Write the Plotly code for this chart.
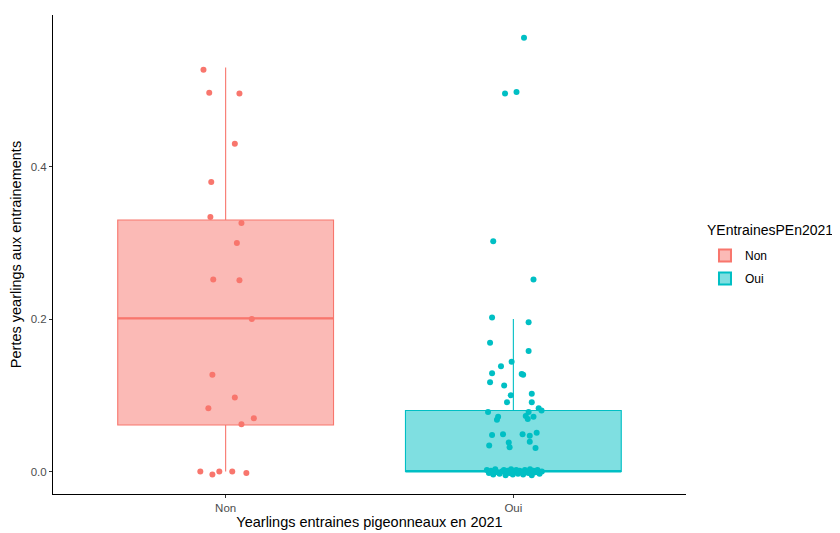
import plotly.graph_objects as go

# Groups and colours (ggplot default hue)
groups = ["Non", "Oui"]
colors = {"Non": "#F8766D", "Oui": "#00BFC4"}
fills = {"Non": "rgba(248,118,109,0.5)", "Oui": "rgba(0,191,196,0.5)"}

# Box statistics
q1 = [0.061, 0.0]
median = [0.201, 0.0]
q3 = [0.330, 0.080]
lower = [0.0, 0.0]
upper = [0.530, 0.200]

# Jittered points: value and horizontal jitter (category units)
non_vals = [0.527, 0.497, 0.496, 0.430, 0.380, 0.334, 0.326, 0.300, 0.252, 0.251,
            0.200, 0.127, 0.097, 0.083, 0.070, 0.062, 0.000, -0.004, 0.000, 0.000, -0.002]
non_jit = [-0.077, -0.057, 0.048, 0.032, -0.050, -0.053, 0.055, 0.039, -0.043, 0.048,
           0.091, -0.046, 0.032, -0.060, 0.098, 0.055, -0.088, -0.046, -0.022, 0.023, 0.072]

oui_vals = [0.569, 0.496, 0.498, 0.302, 0.252, 0.202, 0.196, 0.169, 0.158, 0.144,
            0.138, 0.129, 0.128, 0.127, 0.117, 0.113, 0.102, 0.100, 0.091, 0.091,
            0.083, 0.080, 0.078, 0.078, 0.072, 0.068, 0.073, 0.069, 0.072, 0.048,
            0.049, 0.049, 0.047, 0.051, 0.038, 0.032, 0.034, 0.039, 0.031,
            0.002, -0.002, 0.001, -0.004, 0.003, -0.001, -0.003, 0.000, 0.002, -0.005,
            0.001, -0.002, 0.003, -0.004, 0.000, 0.002, -0.003, 0.001, -0.001, -0.004,
            0.002, 0.000, -0.002, 0.003, -0.005, 0.001, -0.001, 0.002, -0.003, 0.000]
oui_jit = [0.037, -0.029, 0.011, -0.070, 0.070, -0.074, 0.053, -0.081, 0.053, -0.006,
           -0.043, -0.074, 0.029, 0.034, -0.081, -0.032, 0.064, -0.009, 0.064, -0.022,
           0.088, 0.098, -0.088, 0.053, -0.053, -0.057, 0.043, 0.050, 0.070, -0.074,
           -0.036, 0.032, 0.057, 0.081, -0.016, -0.013, -0.084, 0.057, 0.077,
           -0.092, -0.085, -0.078, -0.070, -0.063, -0.055, -0.048, -0.040, -0.033, -0.027,
           -0.020, -0.014, -0.008, -0.002, 0.004, 0.010, 0.016, 0.022, 0.028, 0.034,
           0.040, 0.046, 0.052, 0.058, 0.064, 0.070, 0.077, 0.084, 0.091, 0.099]

box_width = 0.75
font = "Liberation Sans, Arial, sans-serif"

fig = go.Figure()

for i, g in enumerate(groups):
    fig.add_trace(go.Box(
        x=[i], q1=[q1[i]], median=[median[i]], q3=[q3[i]],
        lowerfence=[lower[i]], upperfence=[upper[i]],
        name=g, legendgroup=g, width=box_width, whiskerwidth=0,
        fillcolor=fills[g], line=dict(color=colors[g], width=1.1),
        boxpoints=False, hoverinfo="skip",
    ))
    # thicker median line, like ggplot
    fig.add_trace(go.Scatter(
        x=[i - box_width / 2, i + box_width / 2], y=[median[i], median[i]],
        mode="lines", line=dict(color=colors[g], width=2.2),
        legendgroup=g, showlegend=False, hoverinfo="skip",
    ))

for i, (g, vals, jit) in enumerate([("Non", non_vals, non_jit), ("Oui", oui_vals, oui_jit)]):
    fig.add_trace(go.Scatter(
        x=[i + j for j in jit], y=vals, mode="markers",
        marker=dict(color=colors[g], size=6),
        legendgroup=g, showlegend=False, name=g,
    ))

# the page body adds an 8px margin, so the figure is 8px smaller than the window
fig.update_layout(
    width=832, height=525,
    margin=dict(l=45, r=154, t=7, b=39),
    plot_bgcolor="white", paper_bgcolor="white",
    font=dict(family=font, size=12, color="black"),
    boxmode="overlay",
    legend=dict(
        font=dict(size=12, color="black"),
        x=1.030, y=0.528, xanchor="left", yanchor="top",
        tracegroupgap=4, itemsizing="constant",
    ),
    annotations=[dict(
        text="YEntrainesPEn2021", xref="paper", yref="paper",
        x=1.031, y=0.551, xanchor="left", yanchor="middle",
        showarrow=False, borderpad=0, font=dict(size=14, color="black"),
    )],
)

fig.update_xaxes(
    range=[-0.6, 1.6], tickvals=[0, 1], ticktext=groups,
    showline=True, linecolor="black", linewidth=1, mirror=False,
    ticks="outside", ticklen=3, tickcolor="#333333",
    tickfont=dict(size=11.5, color="#4D4D4D"),
    showgrid=False, zeroline=False, automargin=False,
    title=dict(text="Yearlings entraines pigeonneaux en 2021", font=dict(size=14.5), standoff=4),
)
fig.update_yaxes(
    range=[-0.0295, 0.599], tickvals=[0, 0.2, 0.4], tickformat=".1f",
    showline=True, linecolor="black", linewidth=1,
    ticks="outside", ticklen=3, tickcolor="#333333",
    tickfont=dict(size=11.5, color="#4D4D4D"),
    showgrid=False, zeroline=False, automargin=False,
    title=dict(text="Pertes yearlings aux entrainements", font=dict(size=14.5), standoff=6),
)

fig.write_html("out.html")
